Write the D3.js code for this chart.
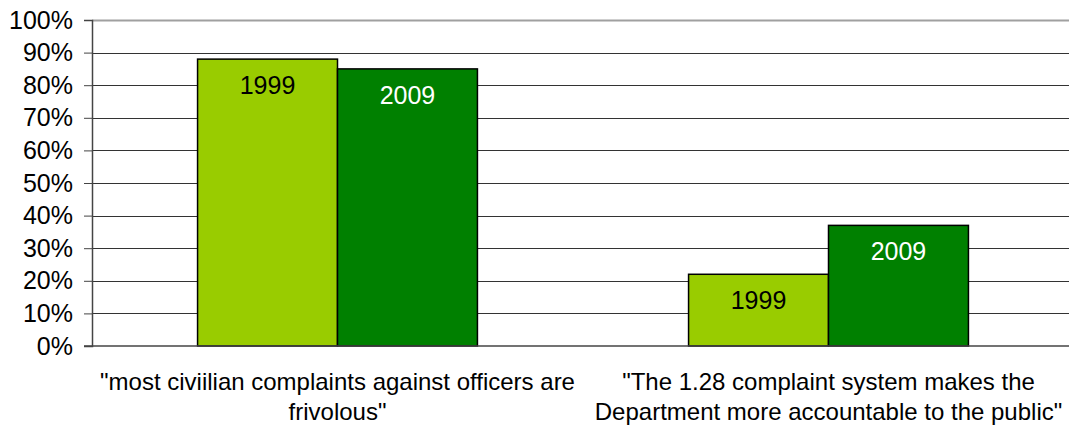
<!DOCTYPE html>
<html><head><meta charset="utf-8">
<script src="https://cdn.jsdelivr.net/npm/d3@7"></script>
<style>body{margin:0;background:#fff}svg{display:block;font-family:"Liberation Sans",Arial,sans-serif}</style>
</head><body><svg id="c" width="1069" height="426"></svg>
<script>
const categories = ['"most civiilian complaints against officers are|frivolous"', '"The 1.28 complaint system makes the|Department more accountable to the public"'];
const seriesNames = ["1999", "2009"];
const values1999 = [0.88, 0.22];
const values2009 = [0.85, 0.37];
const tickValues = [0,0.1,0.2,0.3,0.4,0.5,0.6,0.7,0.8,0.9,1.0];
const colors = ["#99CC00", "#008000"];
const labelColors = ["#000", "#fff"];

const svg = d3.select("#c");
const L = 92, R = 1074, T = 20, B = 346;
const y = d3.scaleLinear().domain([0,1]).range([B, T]);
const x0 = d3.scaleBand().domain(d3.range(categories.length)).range([L, R]).paddingInner(0.43).paddingOuter(0.215);
const x1 = d3.scaleBand().domain(seriesNames).range([0, x0.bandwidth()]);

// gridlines
svg.append("g").selectAll("line").data(tickValues.filter(d=>d>0)).join("line")
  .attr("x1", L).attr("x2", 1069).attr("y1", d=>Math.round(y(d))+0.5).attr("y2", d=>Math.round(y(d))+0.5)
  .attr("stroke", d=> d===1 ? "#a0a0a0" : "#333").attr("stroke-width", d=> d===1 ? 2 : 1);

// axis
const ax = svg.append("g").attr("transform", `translate(${L},0)`)
  .call(d3.axisLeft(y).tickValues(tickValues).tickFormat(d3.format(".0%")).tickSize(8).tickPadding(11));
ax.select(".domain").attr("stroke", "#444").attr("stroke-width", 1.5);
ax.selectAll(".tick line").attr("stroke", "#444");
ax.selectAll(".tick text").attr("font-size", 25).attr("fill", "#000").attr("font-family", '"Liberation Sans",Arial,sans-serif');

const data = categories.map((c,i)=>({i, vals:[values1999[i], values2009[i]]}));
const g = svg.append("g").selectAll("g").data(data).join("g").attr("transform", d=>`translate(${x0(d.i)},0)`);
g.selectAll("rect").data(d=>d.vals.map((v,k)=>({v,k}))).join("rect")
  .attr("x", d=>x1(seriesNames[d.k])).attr("width", x1.bandwidth())
  .attr("y", d=>y(d.v)).attr("height", d=>B - y(d.v))
  .attr("fill", d=>colors[d.k]).attr("stroke", "#000").attr("stroke-width", 1.5);
g.selectAll("text").data(d=>d.vals.map((v,k)=>({v,k}))).join("text")
  .attr("x", d=>x1(seriesNames[d.k]) + x1.bandwidth()/2).attr("y", d=>y(d.v)+35)
  .attr("text-anchor","middle").attr("font-size", 25).attr("fill", d=>labelColors[d.k])
  .text(d=>seriesNames[d.k]);

// baseline
svg.append("line").attr("x1", L-8).attr("x2", 1069).attr("y1", B).attr("y2", B).attr("stroke", "#444").attr("stroke-width", 1.5);

// category labels
const cl = svg.append("g").selectAll("text").data(categories.map((c,i)=>({c,i}))).join("text")
  .attr("text-anchor","middle").attr("font-size", 24).attr("fill","#000")
  .attr("transform", d=>`translate(${x0(d.i)+x0.bandwidth()/2},0)`);
cl.selectAll("tspan").data(d=>d.c.split("|")).join("tspan")
  .attr("x", 0).attr("y", (d,j)=>390 + j*30).text(d=>d);
</script></body></html>
